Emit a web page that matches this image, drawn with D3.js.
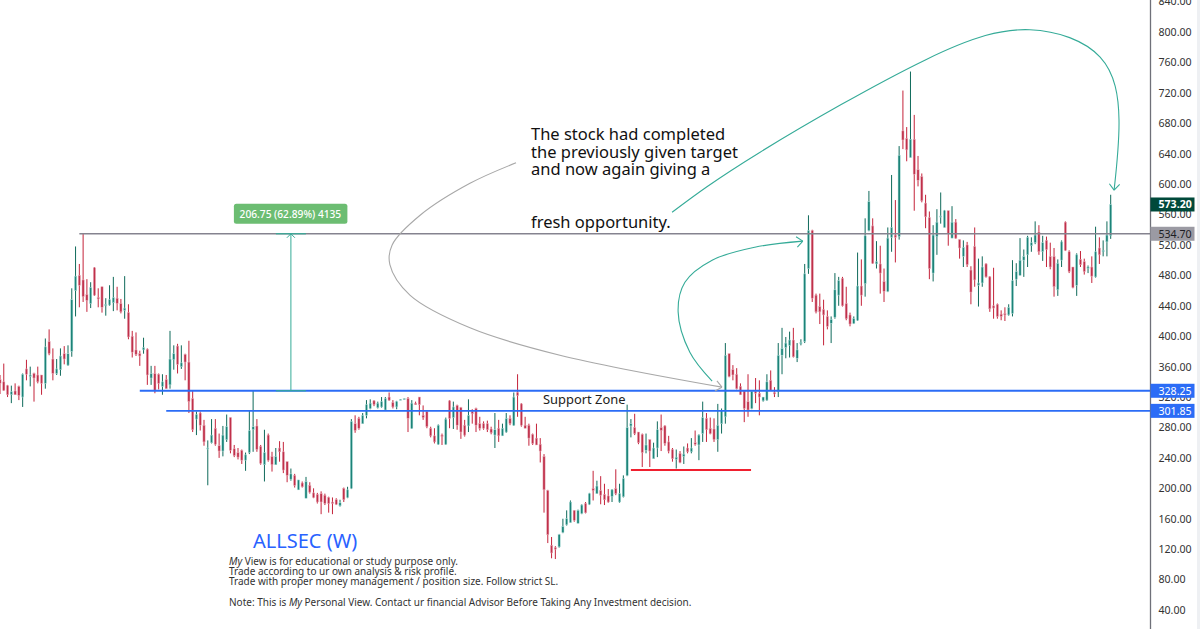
<!DOCTYPE html>
<html>
<head>
<meta charset="utf-8">
<script src="https://cdn.jsdelivr.net/npm/d3@7"></script>
<style>
  html, body { margin: 0; padding: 0; background: #fff; }
  svg { display: block; }
  text { font-family: "Noto Sans", sans-serif; }
</style>
</head>
<body>
<div id="chart"></div>
<script>
// weekly candles
var highs = [349,364,336,335,338,335,351,369,360,352, 360,349,397,409,384,370,384,387,388,463,
  518,495,535,475,471,491,463,465,450,467, 478,465,449,479,442,407,405,381,398,384,
  361,361,351,350,349,407,388,390,388,377, 394,329,301,301,290,263,291,291,272,282,
  297,293,257,253,251,247,302,329,291,257, 277,272,248,253,262,261,235,226,219,211,
  209,215,208,200,194,196,193,189,188,187, 185,201,202,291,296,294,299,316,317,316,
  314,320,320,326,316,315,317,318,320,316, 314,320,309,302,281,279,284,272,293,316,
  314,310,307,290,317,304,306,294,288,289, 281,299,290,285,299,296,326,350,312,294,
  285,272,285,266,245,198,136,124,140,160, 171,184,171,172,179,182,194,223,210,216,
  206,199,199,225,206,217,310,291,298,274, 272,272,264,260,288,297,283,269,253,251,
  249,255,259,266,276,271,314,299,293,292, 311,305,391,377,362,358,338,329,350,329,
  345,342,320,350,355,333,391,411,399,406, 411,391,396,495,559,540,456,456,448,434,
  426,483,478,478,465,431,426,510,501,555, 591,555,525,519,489,543,612,579,650,723,
  675,748,691,637,614,586,564,546,567,589, 566,565,571,554,527,526,524,492,543,502,
  505,496,479,490,443,434,438,442,500,496, 529,514,532,530,551,546,532,531,523,516,
  501,526,551,513,491,509,512,502,493,505, 544,530,526,551,586];
var lows = [324,328,320,312,323,316,307,342,334,314, 338,323,331,375,342,349,348,363,361,373,
  426,438,445,432,437,453,438,431,427,440, 433,434,430,423,396,372,374,361,377,336,
  336,325,330,323,331,331,356,351,357,342, 299,274,270,276,256,204,259,256,240,242,
  261,246,241,238,232,223,245,248,248,231, 209,235,222,231,235,220,208,210,201,198,
  201,187,193,187,180,166,178,168,166,178, 176,182,187,199,273,277,285,292,304,308,
  305,306,303,315,305,304,316,317,274,278, 310,296,290,279,267,259,257,257,257,279,
  278,277,265,268,274,285,274,276,277,274, 271,253,261,269,273,283,282,294,281,279,
  256,257,257,234,168,128,108,107,122,141, 151,155,156,154,166,167,178,184,193,179,
  178,181,182,191,181,188,216,267,270,258, 228,246,228,239,241,249,256,246,235,226,
  233,232,246,246,256,237,261,261,271,261, 248,272,285,346,342,330,323,287,294,304,
  312,296,314,315,328,320,320,350,371,372, 372,366,388,391,482,445,430,416,388,409,
  391,423,440,439,421,413,416,420,440,452, 538,495,489,456,445,458,511,497,527,646,
  630,635,565,597,576,542,475,472,507,548, 543,519,529,528,502,491,491,442,465,439,
  465,477,432,423,423,421,420,427,426,466, 480,478,491,511,521,507,499,491,488,452,
  453,491,512,483,463,453,491,481,483,470, 477,495,505,505,528];
var opens = [343,340,335,323,328,334,320,357,347,351, 349,349,338,393,370,351,356,377,362,380,
  460,480,474,455,443,490,451,465,440,441, 444,450,443,434,431,400,382,377,382,383,
  345,351,350,334,343,336,369,387,360,376, 366,318,291,299,283,252,260,279,256,249,
  264,293,252,247,250,237,247,277,282,255, 231,270,242,231,253,248,235,212,217,198,
  207,187,204,194,192,193,191,188,182,185, 177,200,188,200,285,292,285,296,305,315,
  306,307,303,320,313,307,316,317,318,279, 312,320,296,301,279,269,258,270,258,315,
  293,309,306,283,282,301,305,285,285,285, 278,270,279,269,274,292,283,326,311,283,
  283,271,266,258,242,197,125,122,123,142, 152,155,171,154,167,180,179,200,193,197,
  192,190,189,200,182,189,217,282,280,274, 271,250,264,239,253,280,282,261,251,238,
  246,242,253,248,260,257,272,292,279,278, 264,285,294,377,356,350,334,328,314,305,
  327,325,315,316,342,326,327,375,385,388, 395,371,390,393,489,539,454,439,435,426,
  417,425,454,476,443,428,417,421,466,469, 539,545,495,495,472,459,530,533,531,670,
  660,635,659,619,610,575,556,483,531,557, 543,565,529,550,527,505,520,487,518,467,
  470,495,478,440,442,429,430,428,430,475, 480,500,507,519,523,537,511,526,505,505,
  461,500,550,511,491,467,501,498,489,491, 478,516,511,524,532];
var closes = [338,329,323,327,323,322,350,350,349,345, 340,338,386,377,351,357,374,370,377,448,
  479,467,452,447,464,454,449,438,442,448, 451,443,432,437,399,379,376,374,385,349,
  351,329,338,340,331,370,377,363,365,366, 314,277,297,283,261,253,270,258,249,270,
  281,250,243,241,237,244,276,281,251,233, 247,237,231,242,248,224,217,219,204,211,
  202,209,195,188,182,182,180,180,180,179, 181,185,198,288,276,279,296,310,312,310,
  312,314,318,316,307,314,317,318,292,312, 310,310,293,281,269,261,283,268,291,292,
  307,283,274,270,296,298,283,279,279,277, 273,277,269,279,292,285,320,322,283,279,
  266,259,257,249,198,139,115,120,139,150, 160,182,158,171,178,168,193,197,203,191,
  185,182,198,193,193,213,280,285,272,260, 247,257,249,253,277,276,259,249,239,241,
  234,245,248,253,258,270,293,277,272,264, 283,302,375,347,349,331,323,305,303,327,
  325,320,320,340,329,324,375,384,391,395, 373,382,392,482,539,450,432,432,428,413,
  422,461,473,440,423,416,423,466,454,532, 577,496,498,483,459,529,543,530,638,658,
  645,659,613,605,578,557,489,533,550,558, 565,535,550,529,516,517,494,458,474,470,
  491,478,436,437,426,426,428,438,473,485, 500,505,530,523,533,511,523,514,491,465,
  496,524,513,485,464,507,494,485,491,479, 511,507,513,533,573.2];

var priceTicks = [840,800,760,720,680,640,600,560,520,480,440,400,360,320,280,240,200,160,120,80,40];

// levels drawn on the chart: [price, first bar]
var resistance = [534.7, 21];
var support = [[328.25, 37], [301.85, 44]];
var redLevel = [224, 167, 198.8];

// measure tool
var measureBar = 77;
var measureFrom = 328.25, measureTo = 534.7;
var measureText = "206.75 (62.89%) 4135";

// freehand curves: [bar, price]
var greyCurve = [[136.6,628],[124.4,601],[111.2,559],[103.8,520],[103.2,494],[108.5,454],[124.4,411],[148.2,375],[191.1,333]];
var tealCurveA = [[188.5,341],[182.6,379],[179.5,432],[181.3,471],[188.5,500],[199.8,517],[212.5,525]];
var tealCurveB = [[177.9,563],[201.2,642],[244.8,763],[272.6,803],[291.2,767],[296.2,684],[294.9,592]];

var noteLines = ["The stock had completed", "the previously given target", "and now again giving a", "", "", "fresh opportunity."];

var width = 1200, height = 629, axisX = 1150.5;
var upBody = "#1c8378", upWick = "#0f6a5b", upEdge = "#b9e4e0";
var downBody = "#c0304a", downWick = "#c4233a", downEdge = "#eab4c0";
var blue = "#2962ff", teal = "#35ab98";

var svg = d3.select("#chart").append("svg").attr("width", width).attr("height", height);

var x = d3.scaleLinear().domain([0, highs.length - 1]).range([0, 1110.7]);
var y = d3.scaleLinear().domain([40, 800]).range([610, 32]);

svg.append("defs").append("clipPath").attr("id", "plot")
  .append("rect").attr("width", axisX).attr("height", height);
var plot = svg.append("g").attr("clip-path", "url(#plot)");

// candles
var candles = plot.selectAll("g.candle")
  .data(highs.map(function(h, i) { return i; }))
  .enter().append("g").attr("class", "candle");
candles.append("line")
  .attr("x1", function(i) { return x(i); })
  .attr("x2", function(i) { return x(i); })
  .attr("y1", function(i) { return y(highs[i]); })
  .attr("y2", function(i) { return y(lows[i]); })
  .attr("stroke", function(i) { return closes[i] >= opens[i] ? upWick : downWick; })
  .attr("stroke-width", 1);
candles.append("rect")
  .attr("x", function(i) { return x(i) - 1.1; })
  .attr("width", 2.2)
  .attr("y", function(i) { return y(Math.max(opens[i], closes[i])); })
  .attr("height", function(i) { return Math.max(1, Math.abs(y(opens[i]) - y(closes[i]))); })
  .attr("fill", function(i) { return closes[i] >= opens[i] ? upBody : downBody; })
  .attr("stroke", function(i) { return closes[i] >= opens[i] ? upEdge : downEdge; })
  .attr("stroke-width", 0.5);

// horizontal levels
plot.append("line")
  .attr("x1", x(resistance[1])).attr("x2", axisX)
  .attr("y1", y(resistance[0])).attr("y2", y(resistance[0]))
  .attr("stroke", "#85838f").attr("stroke-width", 1.5);
plot.selectAll("line.support").data(support).enter().append("line")
  .attr("class", "support")
  .attr("x1", function(d) { return x(d[1]); }).attr("x2", axisX)
  .attr("y1", function(d) { return y(d[0]); }).attr("y2", function(d) { return y(d[0]); })
  .attr("stroke", "#2b6cf6")
  .attr("stroke-width", function(d, i) { return i ? 1.6 : 2; });
plot.append("line")
  .attr("x1", x(redLevel[1])).attr("x2", x(redLevel[2]))
  .attr("y1", y(redLevel[0])).attr("y2", y(redLevel[0]))
  .attr("stroke", "#f0202f").attr("stroke-width", 2);

// measure arrow and its label
var mx = x(measureBar), my0 = y(measureFrom), my1 = y(measureTo);
plot.append("line").attr("x1", mx).attr("x2", mx).attr("y1", my0).attr("y2", my1)
  .attr("stroke", teal).attr("stroke-width", 1);
[my0, my1].forEach(function(v) {
  plot.append("line").attr("x1", mx - 15).attr("x2", mx + 15).attr("y1", v).attr("y2", v)
    .attr("stroke", teal).attr("stroke-width", 1.2);
});
plot.append("path")
  .attr("d", "M" + (mx - 4) + "," + (my1 + 4) + "L" + mx + "," + my1 + "L" + (mx + 4) + "," + (my1 + 4))
  .attr("fill", "none").attr("stroke", teal);
plot.append("rect")
  .attr("x", mx - 57).attr("y", my1 - 30).attr("width", 113.5).attr("height", 20).attr("rx", 2.5)
  .attr("fill", "#6cbd72");
plot.append("text").attr("x", mx - 0.5).attr("y", my1 - 16).attr("text-anchor", "middle")
  .attr("fill", "#fff").attr("font-size", 10.2).attr("font-weight", 500).attr("font-family", "Roboto")
  .text(measureText);

// curves with open arrow heads
function drawCurve(pts, color, factory) {
  var curve = d3.line()
    .x(function(d) { return x(d[0]); })
    .y(function(d) { return y(d[1]); })
    .curve(factory);
  plot.append("path").attr("d", curve(pts)).attr("fill", "none")
    .attr("stroke", color).attr("stroke-width", 1.1);
  var a = pts[pts.length - 2], b = pts[pts.length - 1];
  var ex = x(b[0]), ey = y(b[1]);
  var ang = Math.atan2(ey - y(a[1]), ex - x(a[0]));
  [-0.7, 0.7].forEach(function(t) {
    plot.append("line").attr("x1", ex).attr("y1", ey)
      .attr("x2", ex - 8 * Math.cos(ang + t)).attr("y2", ey - 8 * Math.sin(ang + t))
      .attr("stroke", color).attr("stroke-width", 1.1);
  });
}
drawCurve(greyCurve, "#a8a8a8", d3.curveCatmullRom.alpha(0.5));
drawCurve(tealCurveA, teal, d3.curveCatmullRom.alpha(0.5));
drawCurve(tealCurveB, teal, d3.curveNatural);

// texts on the chart
plot.selectAll("text.note").data(noteLines).enter().append("text")
  .attr("class", "note")
  .attr("x", 531).attr("y", function(d, i) { return 140 + i * 17.6; })
  .attr("fill", "#111").attr("font-size", 16.5)
  .text(function(d) { return d; });
plot.append("text").attr("x", 543).attr("y", 404).attr("font-size", 12.9).attr("fill", "#222").text("Support Zone");
plot.append("text").attr("x", 253).attr("y", 548).attr("font-size", 20).attr("fill", blue).text("ALLSEC (W)");

var small = plot.append("g").attr("font-size", 10).attr("fill", "#333");
var l1 = small.append("text").attr("x", 229).attr("y", 565);
l1.append("tspan").attr("font-style", "italic").text("My");
l1.append("tspan").text(" View is for educational or study purpose only.");
small.append("text").attr("x", 229).attr("y", 575).text("Trade according to ur own analysis & risk profile.");
small.append("text").attr("x", 229).attr("y", 585).text("Trade with proper money management / position size. Follow strict SL.");
var l4 = small.append("text").attr("x", 229).attr("y", 606);
l4.append("tspan").text("Note: This is ");
l4.append("tspan").attr("font-style", "italic").text("My");
l4.append("tspan").text(" Personal View. Contact ur financial Advisor Before Taking Any Investment decision.");

// thin band on the far right edge
svg.append("rect").attr("x", 1197).attr("width", 3).attr("height", height).attr("fill", "#eef0f3");

// price axis
var axis = svg.append("g").attr("transform", "translate(" + axisX + ",0)")
  .call(d3.axisRight(y).tickValues(priceTicks).tickFormat(d3.format(".2f")).tickSize(0).tickPadding(8));
axis.select(".domain").attr("stroke", "#6f7079").attr("stroke-width", 1.3).attr("d", "M0,0V" + height);
axis.selectAll("text").attr("fill", "#333").attr("font-size", 10.6).attr("font-family", "Roboto");

// price tags over the axis
var tags = [
  { value: closes[closes.length - 1], bg: "#00493a", fg: "#fff", bold: true },
  { value: resistance[0], bg: "#9b9aa3", fg: "#1d1d24", bold: false },
  { value: support[0][0], bg: "#2b6cf6", fg: "#fff", bold: false },
  { value: support[1][0], bg: "#2b6cf6", fg: "#fff", bold: false }
];
var tag = svg.selectAll("g.tag").data(tags).enter().append("g").attr("class", "tag");
tag.append("rect")
  .attr("x", axisX).attr("width", 44).attr("height", 14)
  .attr("y", function(d) { return y(d.value) - 7; })
  .attr("fill", function(d) { return d.bg; });
tag.append("text")
  .attr("x", axisX + 8).attr("y", function(d) { return y(d.value) + 4; })
  .attr("font-size", 10.6).attr("font-family", "Roboto")
  .attr("font-weight", function(d) { return d.bold ? 700 : 400; })
  .attr("fill", function(d) { return d.fg; })
  .text(function(d) { return d3.format(".2f")(d.value); });
</script>
</body>
</html>
